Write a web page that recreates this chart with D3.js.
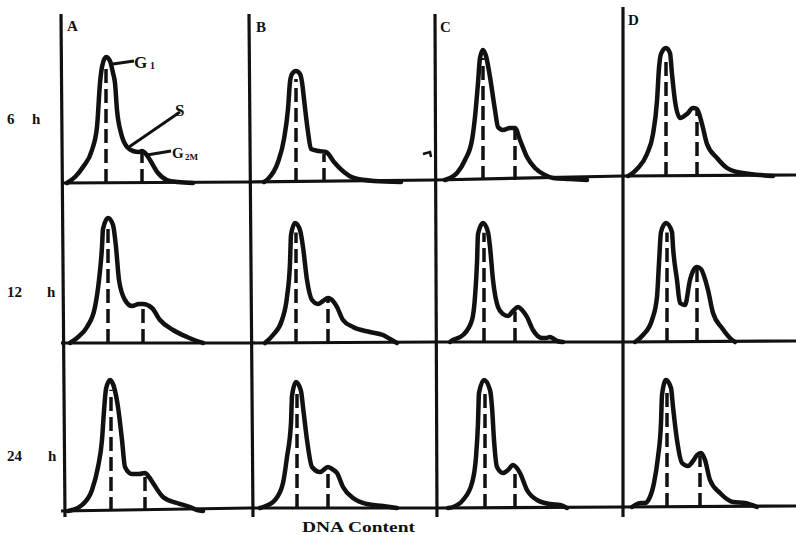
<!DOCTYPE html>
<html>
<head>
<meta charset="utf-8">
<script src="https://cdn.jsdelivr.net/npm/d3@7"></script>
<style>
  body { margin: 0; background: #fff; }
  text { font-family: "Liberation Serif", "DejaVu Serif", serif; font-weight: bold; fill: #111; }
</style>
</head>
<body>
<div class="chart"></div>
<script>
// panel letters and time points
var columns = ["A", "B", "C", "D"];
var times = ["6", "12", "24"];

// histograms: [DNA channel, cell count]
var h6A = [[4,0],[12,6],[20,16],[29,33],[34,56],[37,100],[39,116],[43,126],[47,122],[50,110],[52,100],[54,73],[58,50],[64,36],[70,32],[76,31],[79,32],[83,29],[87,23],[95,10],[104,3],[115,1],[130,0]];
var h6B = [[14,0],[18,3],[28,20],[34,43],[38,73],[40,100],[42,108],[46,111],[50,108],[52,100],[54,83],[58,50],[61,33],[69,31],[76,30],[84,20],[94,10],[104,4],[124,1],[151,0]];
var h6C = [[10,0],[15,2],[22,7],[30,20],[37,40],[40,63],[43,97],[45,122],[48,130],[51,124],[55,103],[60,70],[63,53],[68,50],[75,52],[80,52],[85,40],[92,23],[100,12],[110,5],[118,2],[135,1],[152,0]];
var h6D = [[5,0],[7,1],[14,7],[24,22],[30,42],[34,75],[36,108],[38,122],[43,128],[47,123],[49,102],[52,75],[57,58],[64,62],[70,68],[74,67],[79,52],[84,32],[94,18],[104,8],[114,4],[127,2],[150,0]];

var h12A = [[7,0],[14,5],[24,16],[32,36],[36,63],[39,96],[40,114],[45,125],[50,118],[53,96],[56,63],[62,43],[69,37],[76,39],[80,39],[89,35],[97,23],[110,13],[124,6],[134,2],[140,0]];
var h12B = [[15,0],[23,8],[32,23],[37,46],[40,80],[41,108],[45,120],[50,113],[53,96],[57,63],[62,43],[68,39],[73,42],[78,45],[83,42],[87,36],[93,23],[103,16],[120,11],[133,8],[140,4],[147,0]];
var h12C = [[15,0],[18,2],[28,7],[37,22],[40,45],[42,79],[43,108],[48,119],[53,110],[55,95],[58,62],[63,35],[68,28],[73,26],[78,31],[83,35],[87,32],[92,25],[98,12],[107,4],[111,4],[115,5],[119,3],[122,1],[128,0]];
var h12D = [[12,0],[20,7],[29,22],[34,45],[36,79],[38,110],[43,119],[49,110],[50,95],[54,62],[57,39],[62,37],[67,62],[70,71],[74,75],[78,73],[81,66],[85,52],[90,29],[99,14],[107,4],[112,0]];

var h24A = [[5,0],[9,1],[19,6],[29,21],[35,44],[39,71],[41,100],[43,122],[47,131],[51,124],[55,104],[59,71],[62,44],[69,37],[76,37],[82,38],[86,34],[90,28],[100,14],[114,8],[127,4],[134,1],[140,0]];
var h24B = [[10,0],[13,1],[25,8],[33,25],[37,51],[41,85],[42,112],[46,126],[51,117],[53,101],[57,68],[62,41],[70,36],[78,41],[82,39],[87,35],[93,21],[103,10],[117,4],[133,2],[147,0]];
var h24C = [[13,0],[18,1],[28,8],[37,25],[41,51],[43,85],[44,115],[49,128],[55,118],[57,101],[59,68],[62,41],[68,35],[73,38],[78,43],[81,41],[85,35],[92,18],[102,8],[115,4],[125,3],[132,0]];
var h24D = [[9,0],[14,3],[18,4],[22,4],[26,8],[31,24],[35,50],[38,84],[39,112],[43,127],[48,119],[50,100],[54,67],[59,44],[65,41],[70,46],[74,52],[78,54],[82,47],[87,27],[97,14],[110,5],[122,4],[134,0]];

var histograms = [[h6A, h6B, h6C, h6D], [h12A, h12B, h12C, h12D], [h24A, h24B, h24C, h24D]];

// G1 and G2M peak channels (dashed markers)
var g1Pos = [[43, 46, 48, 43], [45, 46, 49, 44], [48, 47, 50, 44]];
var g2mPos = [[79, 74, 80, 74], [80, 78, 80, 74], [82, 78, 80, 77]];

var svgWidth = 796;
var svgHeight = 535;

// panel origins (the scan is slightly skewed, so each panel gets its own baseline)
var colLeft = [63, 250, 435, 623];
var rowBase = [[183, 182, 180, 176], [343, 343, 342, 342], [511, 508, 508, 507]];

var svg = d3.select(".chart")
  .append("svg")
  .attr("width", svgWidth)
  .attr("height", svgHeight);

svg.append("rect").attr("width", svgWidth).attr("height", svgHeight).attr("fill", "#fff");

var xScale = d3.scaleLinear().domain([0, 186]).range([0, 186]);
var yScale = d3.scaleLinear().domain([0, 170]).range([0, -170]);

var line = d3.line()
  .x(function(d) { return xScale(d[0]); })
  .y(function(d) { return yScale(d[1]); })
  .curve(d3.curveMonotoneX);

// count at a channel, straight interpolation between read points
function countAt(hist, x) {
  for (var i = 1; i < hist.length; i++) {
    if (hist[i][0] >= x) {
      var a = hist[i - 1], b = hist[i];
      return a[1] + (b[1] - a[1]) * (x - a[0]) / (b[0] - a[0]);
    }
  }
  return 0;
}

// frame: vertical panel edges
var vLines = [[61, 14, 65, 517], [249, 14, 253, 517], [435, 14, 437, 517], [623, 7, 623, 517]];
svg.selectAll(".vline")
  .data(vLines)
  .enter()
  .append("line")
  .attr("class", "vline")
  .attr("x1", function(d) { return d[0]; })
  .attr("y1", function(d) { return d[1]; })
  .attr("x2", function(d) { return d[2]; })
  .attr("y2", function(d) { return d[3]; })
  .attr("stroke", "#111")
  .attr("stroke-width", 3.2);

// frame: row baselines
rowBase.forEach(function(bases) {
  var pts = colLeft.map(function(x, i) { return [x, bases[i]]; });
  pts[0][0] = 61;
  pts.push([796, bases[3] - 1]);
  svg.append("path")
    .attr("d", d3.line()(pts))
    .attr("fill", "none")
    .attr("stroke", "#111")
    .attr("stroke-width", 3.2);
});

// histograms
histograms.forEach(function(row, r) {
  row.forEach(function(hist, c) {
    var g = svg.append("g")
      .attr("transform", "translate(" + colLeft[c] + "," + rowBase[r][c] + ")");

    var g1 = g1Pos[r][c];
    var g2 = g2mPos[r][c];

    g.append("line")
      .attr("x1", xScale(g1)).attr("x2", xScale(g1))
      .attr("y1", yScale(0)).attr("y2", yScale(countAt(hist, g1) - 8))
      .attr("stroke", "#111")
      .attr("stroke-width", 3.5)
      .attr("stroke-dasharray", "14,6");

    g.append("line")
      .attr("x1", xScale(g2)).attr("x2", xScale(g2))
      .attr("y1", yScale(0)).attr("y2", yScale(countAt(hist, g2) - 2))
      .attr("stroke", "#111")
      .attr("stroke-width", 3.5)
      .attr("stroke-dasharray", "14,6");

    g.append("path")
      .datum(hist)
      .attr("d", line)
      .attr("fill", "none")
      .attr("stroke", "#111")
      .attr("stroke-width", 4.5)
      .attr("stroke-linejoin", "round")
      .attr("stroke-linecap", "round");
  });
});

// panel letters
var letterPos = [[67, 31], [256, 32], [440, 32], [628, 25]];
svg.selectAll(".letter")
  .data(columns)
  .enter()
  .append("text")
  .attr("class", "letter")
  .attr("x", function(d, i) { return letterPos[i][0]; })
  .attr("y", function(d, i) { return letterPos[i][1]; })
  .style("font-size", "15px")
  .text(function(d) { return d; });

// time labels
var timeY = [124, 297, 461];
var hX = [32, 47, 48];
times.forEach(function(t, i) {
  svg.append("text").attr("x", 7).attr("y", timeY[i]).style("font-size", "15px").text(t);
  svg.append("text").attr("x", hX[i]).attr("y", timeY[i]).style("font-size", "15px").text("h");
});

// phase annotations on panel A, 6 h
var ann = svg.append("g").attr("stroke", "#111").attr("stroke-width", 2.8);
ann.append("line").attr("x1", 113).attr("y1", 64).attr("x2", 134).attr("y2", 61);
ann.append("line").attr("x1", 129).attr("y1", 147).attr("x2", 180).attr("y2", 112);
ann.append("line").attr("x1", 147).attr("y1", 155).attr("x2", 171).attr("y2", 151);

svg.append("text").attr("x", 134).attr("y", 68).style("font-size", "17px").text("G");
svg.append("text").attr("x", 150).attr("y", 69).style("font-size", "10px").text("1");
svg.append("text").attr("x", 175).attr("y", 116).style("font-size", "17px").text("S");
svg.append("text").attr("x", 172).attr("y", 158).style("font-size", "15px").text("G");
svg.append("text").attr("x", 185).attr("y", 160).style("font-size", "9px").text("2M");

// small stray mark near panel C edge
svg.append("path")
  .attr("d", "M423,154 L430,152 L431,157")
  .attr("fill", "none")
  .attr("stroke", "#111")
  .attr("stroke-width", 2.5);

// x axis title
svg.append("text")
  .attr("x", 302)
  .attr("y", 532)
  .attr("textLength", 113)
  .attr("lengthAdjust", "spacingAndGlyphs")
  .style("font-size", "15px")
  .text("DNA Content");
</script>
</body>
</html>
